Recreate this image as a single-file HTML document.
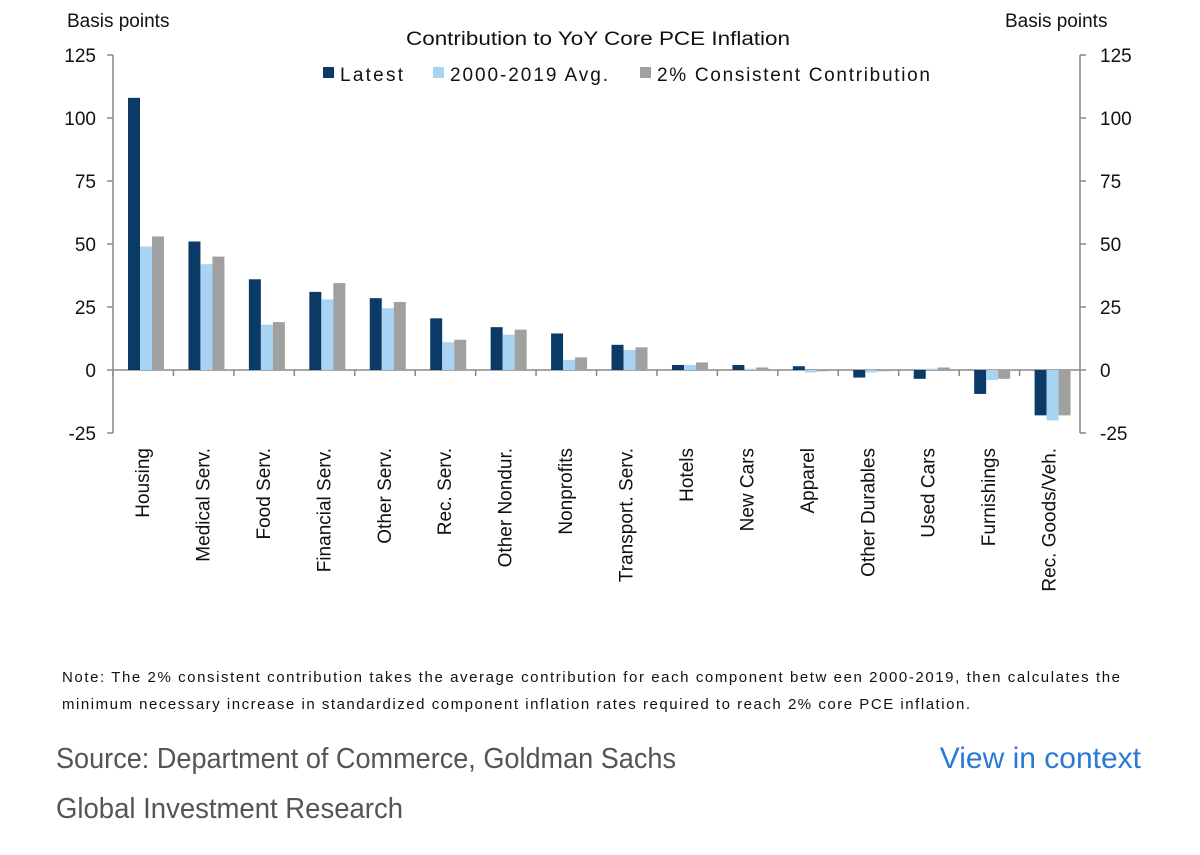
<!DOCTYPE html>
<html><head><style>
body{margin:0;background:#fff;width:1200px;height:850px;overflow:hidden;font-family:"Liberation Sans",Arial,sans-serif}
</style></head><body>
<svg width="1200" height="850" xmlns="http://www.w3.org/2000/svg" font-family="Liberation Sans, Arial, sans-serif">
<text x="67" y="27" font-size="19" fill="#111">Basis points</text>
<text x="1005" y="27" font-size="19" fill="#111">Basis points</text>
<text x="406" y="45" font-size="19" fill="#111" textLength="384" lengthAdjust="spacingAndGlyphs">Contribution  to YoY Core  PCE Inflation</text>
<rect x="323" y="67" width="11" height="11" fill="#0b3a66"/><text x="340" y="81" font-size="19" fill="#111" textLength="63" lengthAdjust="spacing">Latest</text>
<rect x="433" y="67" width="11" height="11" fill="#a9d3f2"/><text x="450" y="81" font-size="19" fill="#111" textLength="158" lengthAdjust="spacing">2000-2019 Avg.</text>
<rect x="640" y="67" width="11" height="11" fill="#a0a0a0"/><text x="657" y="81" font-size="19" fill="#111" textLength="273" lengthAdjust="spacing">2% Consistent Contribution</text>
<g stroke="#888" stroke-width="1.5">
<line x1="113" y1="55" x2="113" y2="433"/><line x1="1080" y1="55" x2="1080" y2="433"/>
<line x1="113" y1="370" x2="1080" y2="370"/>
</g>
<g id="ticks" stroke="#888" stroke-width="1.5"></g>
<g id="bars"></g>
<g id="labs" font-size="19" fill="#111"></g>
<g font-size="19" fill="#111">
<text x="96" y="62" text-anchor="end">125</text><text x="96" y="125" text-anchor="end">100</text>
<text x="96" y="188" text-anchor="end">75</text><text x="96" y="251" text-anchor="end">50</text>
<text x="96" y="314" text-anchor="end">25</text><text x="96" y="377" text-anchor="end">0</text>
<text x="96" y="440" text-anchor="end">-25</text>
<text x="1100" y="62">125</text><text x="1100" y="125">100</text><text x="1100" y="188">75</text>
<text x="1100" y="251">50</text><text x="1100" y="314">25</text><text x="1100" y="377">0</text><text x="1100" y="440">-25</text>
</g>
<text x="62" y="682" font-size="15" fill="#111" textLength="1058" lengthAdjust="spacing">Note: The 2% consistent contribution takes the average contribution for each component betw een 2000-2019, then calculates the</text>
<text x="62" y="709" font-size="15" fill="#111" textLength="908" lengthAdjust="spacing">minimum necessary increase in standardized component inflation rates required to reach 2% core PCE inflation.</text>
<text x="56" y="768" font-size="29" fill="#555" textLength="620" lengthAdjust="spacingAndGlyphs">Source: Department of Commerce, Goldman Sachs</text>
<text x="56" y="818" font-size="29" fill="#555" textLength="347" lengthAdjust="spacingAndGlyphs">Global Investment Research</text>
<text x="1141" y="768" font-size="30" fill="#2a7ad5" text-anchor="end">View in context</text>
</svg>
<script>
const d=[["Housing",108,49,53],["Medical Serv.",51,42,45],["Food Serv.",36,18,19],["Financial Serv.",31,28,34.5],["Other Serv.",28.5,24.5,27],["Rec. Serv.",20.5,11,12],["Other Nondur.",17,14,16],["Nonprofits",14.5,4,5],["Transport. Serv.",10,8,9],["Hotels",2,2,3],["New Cars",2,0.5,1],["Apparel",1.5,-1,-0.5],["Other Durables",-3,-1,-0.5],["Used Cars",-3.5,0.5,1],["Furnishings",-9.5,-4,-3.5],["Rec. Goods/Veh.",-18,-20,-18]];
const ns="http://www.w3.org/2000/svg",cols=["#0b3a66","#a9d3f2","#a0a0a0"];
const B=document.getElementById("bars"),L=document.getElementById("labs"),T=document.getElementById("ticks");
const y=v=>370-v*2.52;
function el(t,a,p){const e=document.createElementNS(ns,t);for(const k in a)e.setAttribute(k,a[k]);p.appendChild(e);return e;}
[55,118,181,244,307,370,433].forEach(v=>{el("line",{x1:107,y1:v,x2:113,y2:v},T);el("line",{x1:1080,y1:v,x2:1086,y2:v},T);});
d.forEach((r,i)=>{const x0=113+60.44*i;
 el("line",{x1:x0,y1:370,x2:x0,y2:376},T);
 for(let j=0;j<3;j++){const v=r[j+1];el("rect",{x:x0+15+12*j,y:Math.min(y(v),370),width:12,height:Math.abs(v*2.52),fill:cols[j]},B);}
 const cx=x0+36;const t=el("text",{x:0,y:0,"text-anchor":"end",transform:`translate(${cx},448) rotate(-90)`},L);t.textContent=r[0];
});
</script>
</body></html>
